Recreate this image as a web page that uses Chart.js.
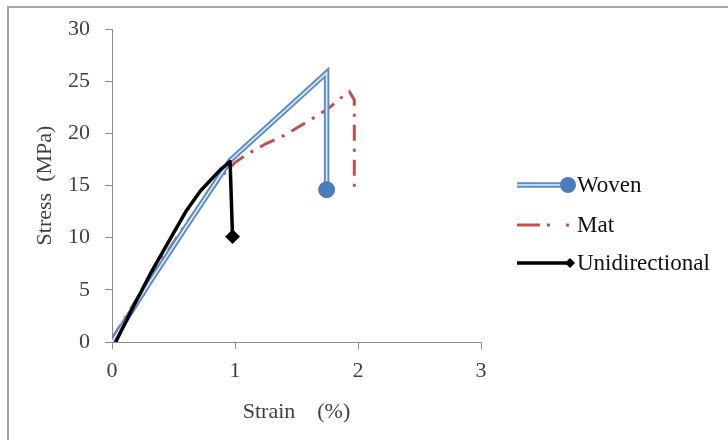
<!DOCTYPE html>
<html>
<head>
<meta charset="utf-8">
<script src="https://cdn.jsdelivr.net/npm/chart.js@4/dist/chart.umd.min.js"></script>
<style>
  html, body { margin: 0; padding: 0; background: #ffffff; }
  canvas { display: block; }
</style>
</head>
<body>
<canvas id="c" width="728" height="440"></canvas>
<script>
// ---- data ----
const xTicks = [0, 1, 2, 3];
const yTicks = [0, 5, 10, 15, 20, 25, 30];

const seriesNames = ["Woven", "Mat", "Unidirectional"];

const strainWoven = [0, 0.30, 0.60, 0.96, 1.745, 1.745];
const stressWoven = [0, 5.6, 11.0, 17.4, 25.8, 14.6];

const strainMat = [0, 0.30, 0.60, 0.90, 1.00, 1.10, 1.25, 1.40, 1.60, 1.75, 1.85, 1.93, 1.97, 1.97];
const stressMat = [0.3, 6.0, 11.3, 16.0, 17.2, 18.0, 19.0, 19.8, 21.2, 22.3, 23.3, 24.0, 23.2, 14.8];

const strainUni = [0.03, 0.17, 0.31, 0.45, 0.60, 0.72, 0.80, 0.88, 0.96, 0.98];
const stressUni = [0, 3.3, 6.5, 9.4, 12.5, 14.5, 15.5, 16.5, 17.3, 10.1];

const pts = (xs, ys) => xs.map((x, i) => ({ x: x, y: ys[i] }));

const BLUE = "#5A8BCB";
const BLUE_INNER = "#E3ECF8";
const BLUE_MARK = "#4A7EBB";
const RED = "#C0504D";
const BLACK = "#000000";
const FONT = "'Liberation Serif', 'Times New Roman', serif";
const MAT_DASH = [16, 8, 3, 8];

const wovenData = pts(strainWoven, stressWoven);
const wovenEnd = [wovenData[wovenData.length - 1]];

const datasets = [
  { label: seriesNames[2], data: pts(strainUni, stressUni), borderColor: BLACK, borderWidth: 3.5,
    pointRadius: strainUni.map((_, i) => i === strainUni.length - 1 ? 5 : 0),
    pointStyle: "rectRot", pointBackgroundColor: BLACK, pointBorderColor: BLACK, order: 0,
    legendKind: "uni", borderJoinStyle: "round" },
  { label: seriesNames[0] + " marker", data: wovenEnd, showLine: false, pointRadius: 8,
    pointBackgroundColor: BLUE_MARK, pointBorderColor: BLUE_MARK, order: 1 },
  { label: seriesNames[0] + " inner", data: wovenData, borderColor: BLUE_INNER, borderWidth: 1.6,
    pointRadius: 0, order: 2 },
  { label: seriesNames[0], data: wovenData, borderColor: BLUE, borderWidth: 5.5,
    pointRadius: 0, order: 3, legendKind: "woven" },
  { label: seriesNames[1], data: pts(strainMat, stressMat), borderColor: RED, borderWidth: 3,
    borderDash: MAT_DASH, pointRadius: 0, order: 4, legendKind: "mat" }
];

const legendPlugin = {
  id: "customLegend",
  afterDraw(chart) {
    const ctx = chart.ctx;
    ctx.save();
    // frame (top and left edges)
    ctx.strokeStyle = "#a6a6a6";
    ctx.lineWidth = 2;
    ctx.beginPath();
    ctx.moveTo(728, 7);
    ctx.lineTo(8, 7);
    ctx.lineTo(8, 440);
    ctx.stroke();

    const order = ["woven", "mat", "uni"];
    const ys = [185, 225, 263];
    const x0 = 517, x1 = 570, tx = 577;
    order.forEach((kind, k) => {
      const ds = chart.data.datasets.find(d => d.legendKind === kind);
      const y = ys[k];
      ctx.setLineDash([]);
      if (kind === "woven") {
        ctx.strokeStyle = BLUE; ctx.lineWidth = 5.5;
        ctx.beginPath(); ctx.moveTo(x0, y); ctx.lineTo(x1, y); ctx.stroke();
        ctx.strokeStyle = BLUE_INNER; ctx.lineWidth = 1.6;
        ctx.beginPath(); ctx.moveTo(x0, y); ctx.lineTo(x1, y); ctx.stroke();
        ctx.fillStyle = BLUE_MARK;
        ctx.beginPath(); ctx.arc(568, y, 8, 0, Math.PI * 2); ctx.fill();
      } else if (kind === "mat") {
        ctx.strokeStyle = RED; ctx.lineWidth = 3;
        ctx.beginPath(); ctx.moveTo(x0, y); ctx.lineTo(540, y); ctx.stroke();
        ctx.beginPath(); ctx.moveTo(547, y); ctx.lineTo(550, y); ctx.stroke();
        ctx.beginPath(); ctx.moveTo(566, y); ctx.lineTo(569, y); ctx.stroke();
      } else {
        ctx.strokeStyle = BLACK; ctx.lineWidth = 3.5;
        ctx.beginPath(); ctx.moveTo(x0, y); ctx.lineTo(x1, y); ctx.stroke();
        ctx.fillStyle = BLACK;
        ctx.beginPath();
        ctx.moveTo(x1, y - 5); ctx.lineTo(x1 + 5, y); ctx.lineTo(x1, y + 5); ctx.lineTo(x1 - 5, y);
        ctx.closePath(); ctx.fill();
      }
      ctx.fillStyle = "#111111";
      ctx.font = "23px " + FONT;
      ctx.textBaseline = "middle";
      ctx.textAlign = "left";
      ctx.fillText(ds.label, tx, y + 1);
    });
    ctx.restore();
  }
};

const tickFont = { family: FONT, size: 22 };

new Chart(document.getElementById("c"), {
  type: "scatter",
  data: { datasets: datasets.map(d => Object.assign({ showLine: d.showLine !== false, fill: false, tension: 0, borderCapStyle: "butt", borderJoinStyle: "miter" }, d)) },
  options: {
    responsive: false,
    animation: false,
    devicePixelRatio: 1,
    layout: { padding: { top: 29, right: 247, bottom: 0, left: 0 } },
    plugins: { legend: { display: false }, tooltip: { enabled: false } },
    scales: {
      x: {
        type: "linear", min: 0, max: 3,
        afterBuildTicks: s => { s.ticks = xTicks.map(v => ({ value: v })); },
        afterFit: s => { s.height = 98; },
        ticks: { font: tickFont, color: "#404040", padding: 9 },
        grid: { drawOnChartArea: false, drawTicks: true, tickLength: 7, color: "#8c8c8c" },
        border: { color: "#8c8c8c", width: 1 },
        title: { display: true, text: "Strain    (%)", font: tickFont, color: "#404040", padding: { top: 0, bottom: 15 } }
      },
      y: {
        type: "linear", min: 0, max: 30,
        afterBuildTicks: s => { s.ticks = yTicks.map(v => ({ value: v })); },
        afterFit: s => { s.width = 112; },
        ticks: { font: tickFont, color: "#404040", padding: 15 },
        grid: { drawOnChartArea: false, drawTicks: true, tickLength: 7, color: "#8c8c8c" },
        border: { color: "#8c8c8c", width: 1 },
        title: { display: true, text: "Stress  (MPa)", font: tickFont, color: "#404040", padding: { bottom: 0, top: 32 } }
      }
    }
  },
  plugins: [legendPlugin]
});
</script>
</body>
</html>
